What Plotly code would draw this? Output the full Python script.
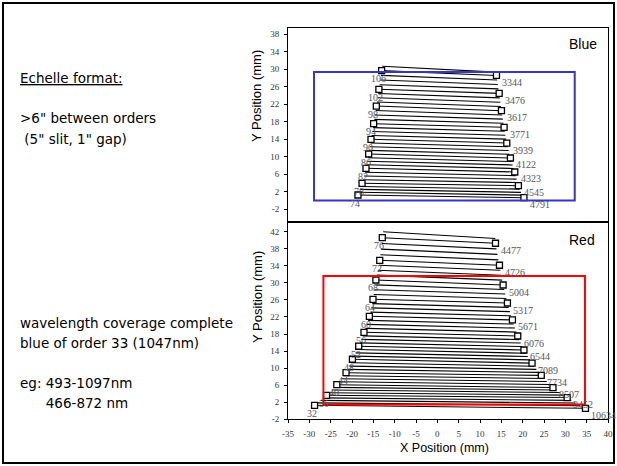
import plotly.graph_objects as go

# ---------------- data ----------------
blue_orders = list(range(74, 108))
blue_xl = [-18.6, -18.35, -18.1, -17.88, -17.65, -17.42, -17.18, -16.95, -16.72, -16.56, -16.41, -16.25,
           -16.1, -15.96, -15.82, -15.68, -15.55, -15.4, -15.24, -15.08, -14.93, -14.77, -14.61, -14.45,
           -14.3, -14.15, -14.0, -13.85, -13.7, -13.54, -13.38, -13.22, -13.06, -12.9]
blue_yl = [1.27, 1.90, 2.55, 3.22, 3.94, 4.75, 5.60, 6.47, 7.37, 8.17, 8.98, 9.80, 10.64, 11.47, 12.30,
           13.14, 14.00, 14.88, 15.77, 16.66, 17.57, 18.56, 19.56, 20.57, 21.60, 22.54, 23.50, 24.46,
           25.43, 26.48, 27.54, 28.62, 29.70, 30.70]
blue_xr = [20.3, 19.95, 19.6, 19.3, 19.0, 18.8, 18.55, 18.35, 18.15, 17.9, 17.65, 17.4, 17.13, 16.9,
           16.7, 16.5, 16.28, 16.12, 15.96, 15.8, 15.65, 15.5, 15.35, 15.19, 15.03, 14.9, 14.76, 14.62,
           14.49, 14.33, 14.17, 14.02, 13.86, 13.8]
blue_yr = [0.65, 1.25, 1.88, 2.62, 3.40, 4.12, 4.90, 5.70, 6.53, 7.33, 8.13, 8.93, 9.73, 10.58, 11.43,
           12.29, 13.15, 14.04, 14.93, 15.83, 16.74, 17.67, 18.61, 19.57, 20.54, 21.50, 22.48, 23.48,
           24.50, 25.52, 26.54, 27.57, 28.60, 29.35]
blue_label_orders = [74, 78, 82, 86, 90, 94, 98, 102, 106]
blue_wavelengths = [4791, 4545, 4323, 4122, 3939, 3771, 3617, 3476, 3344]

red_orders = list(range(32, 78))
red_xl = [-28.77, -28.0, -27.3, -26.62, -25.97, -25.35, -24.7, -24.1, -23.56, -23.0, -22.45, -21.9,
          -21.4, -21.0, -20.62, -20.25, -19.9, -19.52, -19.15, -18.78, -18.43, -18.12, -17.8, -17.5,
          -17.19, -16.86, -16.54, -16.23, -15.93, -15.7, -15.48, -15.27, -15.08, -14.9, -14.72, -14.56,
          -14.4, -14.15, -13.93, -13.7, -13.5, -13.35, -13.2, -13.05, -12.9, -12.7]
red_yl = [1.28, 1.85, 2.44, 3.03, 3.63, 4.24, 4.86, 5.49, 6.12, 6.80, 7.50, 8.21, 8.93, 9.70, 10.48,
          11.27, 12.08, 12.83, 13.59, 14.36, 15.13, 15.93, 16.74, 17.57, 18.41, 19.33, 20.26, 21.20,
          22.16, 23.14, 24.13, 25.13, 26.15, 27.26, 28.38, 29.52, 30.68, 31.82, 32.96, 34.12, 35.30,
          36.60, 37.92, 39.25, 40.60, 42.00]
red_xr = [34.72, 33.5, 32.4, 31.4, 30.43, 29.55, 28.7, 27.9, 27.1, 26.35, 25.65, 25.0, 24.36, 23.8,
          23.22, 22.7, 22.2, 21.7, 21.2, 20.75, 20.3, 19.92, 19.55, 19.2, 18.85, 18.52, 18.2, 17.9, 17.6,
          17.3, 17.0, 16.72, 16.43, 16.17, 15.92, 15.67, 15.42, 15.2, 14.98, 14.77, 14.56, 14.32, 14.1,
          13.86, 13.63, 13.6]
red_yr = [0.58, 1.20, 1.82, 2.45, 3.10, 3.68, 4.27, 4.86, 5.45, 6.15, 6.85, 7.57, 8.30, 9.00, 9.72,
          10.45, 11.18, 11.95, 12.72, 13.49, 14.26, 15.07, 15.88, 16.70, 17.54, 18.46, 19.40, 20.34,
          21.30, 22.28, 23.26, 24.26, 25.28, 26.33, 27.38, 28.44, 29.50, 30.64, 31.80, 32.96, 34.13,
          35.40, 36.68, 37.98, 39.29, 40.40]
red_label_orders = [32, 36, 40, 44, 48, 52, 56, 60, 64, 68, 72, 76]
red_wavelengths = [10634, 9452, 8507, 7734, 7089, 6544, 6076, 5671, 5317, 5004, 4726, 4477]

blue_box = [-28.9, 0.0, 32.2, 29.4]   # x0, y0, x1, y1
red_box = [-26.7, 1.5, 34.6, 31.6]

x_ticks = list(range(-35, 41, 5))
blue_y_ticks = list(range(-2, 39, 4))
red_y_ticks = list(range(-2, 43, 4))

left_text = [
    ("<u>Echelle format:</u>", 78),
    ('>6" between orders', 118),
    (' (5" slit, 1" gap)', 139),
    ("wavelength coverage complete", 323),
    ("blue of order 33 (1047nm)", 343),
    ("eg: 493-1097nm", 383),
    ("      466-872 nm", 403),
]

# ---------------- figure ----------------
W, H = 617, 466
def px(x):
    return x / W
def py(y):
    return 1 - y / H

fig = go.Figure()
annotations = []
SERIF = "Liberation Serif, Times New Roman, serif"
SANS = "Liberation Sans, Arial, sans-serif"

def add_panel(orders, xl, yl, xr, yr, lab_orders, waves, xa, ya):
    lx, ly = [], []
    for a, b, c, d in zip(xl, yl, xr, yr):
        lx += [a, c, None]
        ly += [b, d, None]
    fig.add_trace(go.Scatter(x=lx, y=ly, mode="lines", xaxis=xa, yaxis=ya,
                             line=dict(color="black", width=1.1), showlegend=False, hoverinfo="skip"))
    mx, my = [], []
    for m, w in zip(lab_orders, waves):
        i = orders.index(m)
        mx += [xl[i], xr[i]]
        my += [yl[i], yr[i]]
        annotations.append(dict(x=xl[i], y=yl[i], xref=xa, yref=ya, text=str(m), showarrow=False,
                                xanchor="center", yanchor="middle", xshift=-3, yshift=-8,
                                font=dict(family=SERIF, size=10, color="#555")))
        annotations.append(dict(x=xr[i], y=yr[i], xref=xa, yref=ya, text=str(w), showarrow=False,
                                xanchor="left", yanchor="middle", xshift=4, yshift=-7,
                                font=dict(family=SERIF, size=10, color="#555")))
    fig.add_trace(go.Scatter(x=mx, y=my, mode="markers", xaxis=xa, yaxis=ya,
                             marker=dict(symbol="square", size=6, color="white",
                                         line=dict(color="black", width=1.3)),
                             showlegend=False, hoverinfo="skip"))

add_panel(blue_orders, blue_xl, blue_yl, blue_xr, blue_yr, blue_label_orders, blue_wavelengths, "x", "y")
add_panel(red_orders, red_xl, red_yl, red_xr, red_yr, red_label_orders, red_wavelengths, "x2", "y2")

shapes = [
    dict(type="rect", xref="x", yref="y", x0=blue_box[0], y0=blue_box[1], x1=blue_box[2], y1=blue_box[3],
         line=dict(color="#3535c8", width=2)),
    dict(type="rect", xref="x2", yref="y2", x0=red_box[0], y0=red_box[1], x1=red_box[2], y1=red_box[3],
         line=dict(color="#ff0000", width=2)),
    dict(type="rect", xref="paper", yref="paper", x0=px(3), y0=py(463), x1=px(614), y1=py(3),
         line=dict(color="black", width=2)),
]

for t, yy in left_text:
    annotations.append(dict(x=px(18), y=py(yy), xref="paper", yref="paper", text=t, showarrow=False,
                            xanchor="left", yanchor="middle",
                            font=dict(family="DejaVu Sans", size=13.5, color="black")))

def centered(x, y, text, size, angle=0):
    return dict(x=px(x), y=py(y), xref="paper", yref="paper", text=text, showarrow=False,
                xanchor="center", yanchor="middle", textangle=angle,
                font=dict(family=SANS, size=size, color="black"))

annotations += [
    centered(583, 44, "Blue", 14),
    centered(582, 240, "Red", 14),
    centered(257, 96, "Y Position (mm)", 13, -90),
    centered(257, 297, "Y Position (mm)", 13, -90),
    centered(444, 448, "X Position (mm)", 12.5),
]

axis_common = dict(showgrid=False, zeroline=False, showline=True, linecolor="black", linewidth=1,
                   mirror=True, ticks="outside", ticklen=3, tickcolor="black", tickwidth=1,
                   tickfont=dict(family=SERIF, size=9, color="#333"))

x_dom = [px(288), px(608)]
fig.update_layout(
    width=W, height=H, margin=dict(l=0, r=0, t=0, b=0, autoexpand=False),
    paper_bgcolor="white", plot_bgcolor="white", showlegend=False,
    xaxis=dict(domain=x_dom, range=[-35, 40], anchor="y", showticklabels=False,
               **{k: v for k, v in axis_common.items() if k not in ("ticks",)}, ticks=""),
    yaxis=dict(domain=[py(222), py(28)], range=[-4.9, 39.44], anchor="x", ticklabelstandoff=3,
               tickvals=blue_y_ticks, ticktext=[str(v) for v in blue_y_ticks], **axis_common),
    xaxis2=dict(domain=x_dom, range=[-35, 40], anchor="y2", ticklabelstandoff=3,
                tickvals=x_ticks, ticktext=[str(v) for v in x_ticks], **axis_common),
    yaxis2=dict(domain=[py(419.3), py(222)], range=[-2, 44.28], anchor="x2", ticklabelstandoff=3,
                tickvals=red_y_ticks, ticktext=[str(v) for v in red_y_ticks], **axis_common),
    shapes=shapes,
    annotations=annotations,
)

fig.write_html("out.html", config={"displayModeBar": False},
               post_script="document.body.style.margin='0';document.body.style.overflow='hidden';")
